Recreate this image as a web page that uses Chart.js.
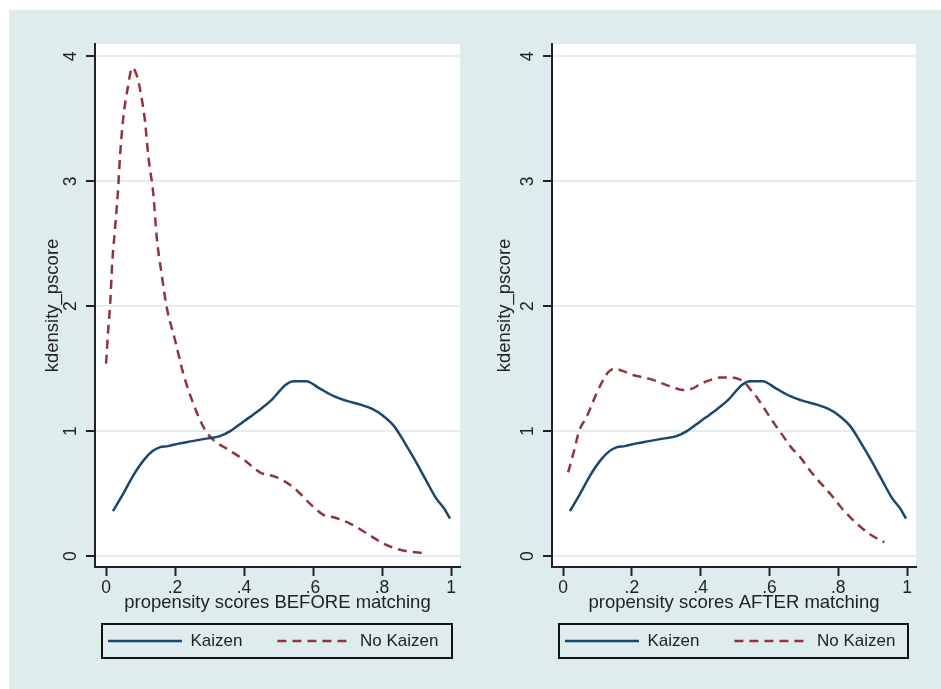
<!DOCTYPE html>
<html>
<head>
<meta charset="utf-8">
<script src="https://cdn.jsdelivr.net/npm/chart.js@4.4.1/dist/chart.umd.min.js"></script>
<style>
  body { margin: 0; background: #ffffff; width: 941px; height: 689px; position: relative; overflow: hidden; }
  #bg { position: absolute; left: 9px; top: 10px; width: 932px; height: 679px; background: #deeced; }
  canvas { position: absolute; top: 0; }
  #leftPanel { left: 0; }
  #rightPanel { left: 470px; }
</style>
</head>
<body>
<div id="bg"></div>
<canvas id="leftPanel" width="512" height="689"></canvas>
<canvas id="rightPanel" width="500" height="689"></canvas>
<script>
// 刻度位置與標籤
const xTickValues = [0, 0.2, 0.4, 0.6, 0.8, 1];
const xTickLabels = ['0', '.2', '.4', '.6', '.8', '1'];
const yTickValues = [0, 1, 2, 3, 4];
const yTickLabels = ['0', '1', '2', '3', '4'];

// 圖例名稱與座標軸標題
const seriesNames = ['Kaizen', 'No Kaizen'];
const yTitle = 'kdensity_pscore';
const xTitleBefore = 'propensity scores BEFORE matching';
const xTitleAfter = 'propensity scores AFTER matching';

// Kaizen 組（兩張圖相同）
const kaizenX = [0.020, 0.050, 0.080, 0.110, 0.135, 0.155, 0.180, 0.210, 0.250, 0.290, 0.330, 0.360, 0.400, 0.440, 0.480, 0.520, 0.545, 0.580, 0.620, 0.660, 0.700, 0.740, 0.770, 0.800, 0.835, 0.865, 0.895, 0.925, 0.955, 0.980, 0.997];
const kaizenY = [0.36, 0.50, 0.65, 0.77, 0.84, 0.87, 0.88, 0.90, 0.92, 0.94, 0.96, 1.00, 1.08, 1.16, 1.25, 1.37, 1.40, 1.40, 1.34, 1.28, 1.24, 1.21, 1.18, 1.13, 1.04, 0.91, 0.77, 0.62, 0.47, 0.38, 0.30];

// No Kaizen 組，配對前
const noKaizenBeforeX = [0.000, 0.006, 0.012, 0.018, 0.026, 0.034, 0.041, 0.050, 0.063, 0.076, 0.090, 0.103, 0.113, 0.123, 0.137, 0.147, 0.161, 0.176, 0.200, 0.224, 0.253, 0.287, 0.311, 0.355, 0.400, 0.446, 0.495, 0.543, 0.591, 0.630, 0.660, 0.707, 0.756, 0.804, 0.852, 0.930];
const noKaizenBeforeY = [1.54, 1.80, 2.02, 2.35, 2.62, 2.90, 3.22, 3.51, 3.75, 3.91, 3.84, 3.67, 3.48, 3.19, 2.90, 2.55, 2.26, 1.99, 1.73, 1.46, 1.22, 1.01, 0.93, 0.85, 0.77, 0.67, 0.63, 0.55, 0.42, 0.33, 0.31, 0.26, 0.18, 0.10, 0.05, 0.02];

// No Kaizen 組，配對後
const noKaizenAfterX = [0.015, 0.030, 0.048, 0.068, 0.085, 0.097, 0.115, 0.131, 0.150, 0.175, 0.203, 0.235, 0.262, 0.290, 0.310, 0.349, 0.375, 0.401, 0.430, 0.459, 0.508, 0.527, 0.546, 0.566, 0.590, 0.614, 0.640, 0.663, 0.690, 0.711, 0.737, 0.760, 0.785, 0.808, 0.835, 0.866, 0.900, 0.934];
const noKaizenAfterY = [0.67, 0.82, 1.01, 1.11, 1.22, 1.30, 1.40, 1.47, 1.50, 1.48, 1.45, 1.43, 1.41, 1.38, 1.36, 1.33, 1.34, 1.38, 1.41, 1.43, 1.42, 1.39, 1.33, 1.26, 1.16, 1.06, 0.96, 0.87, 0.79, 0.71, 0.62, 0.55, 0.47, 0.39, 0.31, 0.23, 0.16, 0.11];

Chart.defaults.font.family = '"Liberation Sans", Arial, sans-serif';

// 把 x、y 陣列組成點
function toPoints(xs, ys) {
  return xs.map((x, i) => ({ x: x, y: ys[i] }));
}

// 圖例樣本沿用資料線的線寬與虛線
function legendItems(chart) {
  const items = Chart.defaults.plugins.legend.labels.generateLabels(chart);
  items.forEach(item => {
    const ds = chart.data.datasets[item.datasetIndex];
    item.lineDash = ds.borderDash || [];
    item.lineWidth = ds.borderWidth;
    item.strokeStyle = ds.borderColor;
  });
  return items;
}

// 繪圖區白色底
const plotBackground = {
  id: 'plotBackground',
  beforeDraw(chart) {
    const { ctx, chartArea } = chart;
    ctx.save();
    ctx.fillStyle = '#ffffff';
    ctx.fillRect(chartArea.left, chartArea.top, chartArea.width, chartArea.height);
    ctx.restore();
  }
};

// 圖例外框
const legendFrame = {
  id: 'legendFrame',
  afterDraw(chart) {
    const { ctx, chartArea, legend } = chart;
    const box = legend.legendHitBoxes[0];
    const midY = box.top + box.height / 2;
    ctx.save();
    ctx.strokeStyle = '#111111';
    ctx.lineWidth = 2;
    ctx.strokeRect(chartArea.left + 7, midY - 17, chartArea.width - 15, 34);
    ctx.restore();
  }
};

// 畫一張面板
function drawPanel(canvasId, otherX, otherY, xTitle, pad) {
  new Chart(document.getElementById(canvasId), {
    type: 'line',
    data: {
      datasets: [
        {
          label: seriesNames[0],
          data: toPoints(kaizenX, kaizenY),
          borderColor: '#1a476f',
          backgroundColor: '#1a476f',
          borderWidth: 2.5,
          pointRadius: 0,
          cubicInterpolationMode: 'monotone',
          fill: false
        },
        {
          label: seriesNames[1],
          data: toPoints(otherX, otherY),
          borderColor: '#90353b',
          backgroundColor: '#90353b',
          borderWidth: 2.5,
          borderDash: [9, 6],
          pointRadius: 0,
          cubicInterpolationMode: 'monotone',
          fill: false
        }
      ]
    },
    options: {
      responsive: false,
      animation: false,
      layout: { padding: { left: pad.left, right: pad.right, top: 44, bottom: 29.5 } },
      plugins: {
        legend: {
          position: 'bottom',
          align: 'center',
          labels: {
            usePointStyle: true,
            pointStyle: 'line',
            pointStyleWidth: 74,
            padding: 35,
            color: '#222222',
            font: { size: 17 },
            generateLabels: legendItems
          }
        },
        tooltip: { enabled: false }
      },
      scales: {
        x: {
          type: 'linear',
          min: -0.032,
          max: 1.026,
          afterBuildTicks: s => { s.ticks = xTickValues.map(v => ({ value: v })); },
          afterFit: s => { s.height = 30.5; },
          ticks: {
            callback: (v, i) => xTickLabels[i],
            padding: 2,
            maxRotation: 0,
            color: '#222222',
            font: { size: 17.5 }
          },
          grid: { drawOnChartArea: false, tickLength: 9, tickColor: '#222222', tickWidth: 2 },
          border: { color: '#222222', width: 2 },
          title: { display: true, text: xTitle, color: '#222222', font: { size: 18.5 }, padding: { top: 0, bottom: -16.6 } }
        },
        y: {
          min: -0.088,
          max: 4.1,
          afterBuildTicks: s => { s.ticks = yTickValues.map(v => ({ value: v })); },
          afterFit: s => { s.width = 55; },
          ticks: {
            callback: (v, i) => yTickLabels[i],
            padding: 9.5,
            minRotation: 90,
            maxRotation: 90,
            crossAlign: 'center',
            color: '#222222',
            font: { size: 17.5 }
          },
          grid: { color: '#e3eef1', lineWidth: 2, tickLength: 9, tickColor: '#222222', tickWidth: 2 },
          border: { color: '#222222', width: 2 },
          title: { display: true, text: yTitle, color: '#222222', font: { size: 18.5 }, padding: { top: pad.title, bottom: 0 } }
        },
        // 右側留白（讓圖例置中於繪圖區）
        gap: {
          position: 'right',
          afterFit: s => { s.width = pad.gap; },
          ticks: { display: false },
          grid: { display: false },
          border: { display: false }
        }
      }
    },
    plugins: [plotBackground, legendFrame]
  });
}

drawPanel('leftPanel', noKaizenBeforeX, noKaizenBeforeY, xTitleBefore, { left: 40, right: 5.7, gap: 46.3, title: 1.9 });
drawPanel('rightPanel', noKaizenAfterX, noKaizenAfterY, xTitleAfter, { left: 27, right: 6.7, gap: 47.3, title: -3.1 });
</script>
</body>
</html>
